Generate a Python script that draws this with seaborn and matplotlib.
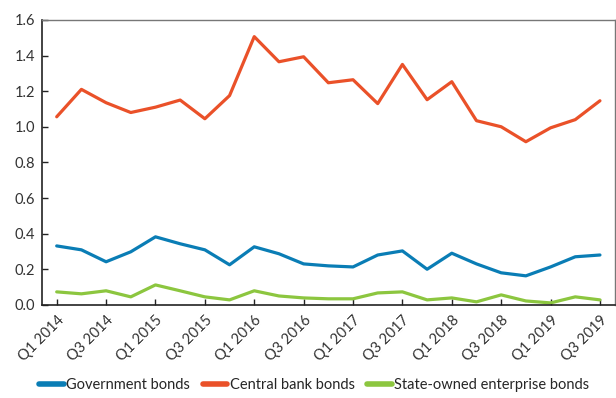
import matplotlib
matplotlib.use("Agg")
import matplotlib.pyplot as plt
import seaborn as sns
import pandas as pd

quarters = [f"Q{q} {y}" for y in range(2014, 2020) for q in (1, 2, 3, 4)][:23]
government = [0.331, 0.309, 0.242, 0.298, 0.382, 0.343, 0.309, 0.225, 0.326, 0.287,
              0.230, 0.219, 0.213, 0.280, 0.303, 0.200, 0.290, 0.230, 0.180, 0.163,
              0.213, 0.270, 0.280]
central_bank = [1.056, 1.210, 1.135, 1.080, 1.110, 1.150, 1.045, 1.175, 1.506, 1.365,
                1.393, 1.247, 1.264, 1.130, 1.350, 1.152, 1.253, 1.034, 1.000, 0.916,
                0.994, 1.040, 1.146]
soe = [0.073, 0.062, 0.079, 0.045, 0.112, 0.079, 0.045, 0.028, 0.079, 0.050,
       0.039, 0.034, 0.034, 0.067, 0.073, 0.028, 0.039, 0.017, 0.056, 0.022,
       0.011, 0.045, 0.028]
series_names = ["Government bonds", "Central bank bonds", "State-owned enterprise bonds"]
colors = ["#0a7db5", "#ea5129", "#8cc63f"]

rows = []
for name, vals in zip(series_names, [government, central_bank, soe]):
    for i, v in enumerate(vals):
        rows.append({"idx": i, "value": v, "series": name})
df = pd.DataFrame(rows)

sns.set_theme(style="white")
plt.rcParams["font.family"] = ["Lato", "DejaVu Sans"]

fig = plt.figure(figsize=(6.16, 3.98), dpi=100)
ax = fig.add_axes([0.068, 0.234, 0.93, 0.716])
sns.lineplot(data=df, x="idx", y="value", hue="series", hue_order=series_names,
             palette=colors, linewidth=2.3, ax=ax, legend=True)

ax.set_xlim(-0.6, 22.6)
ax.set_ylim(0, 1.6)
ax.set_yticks([0, 0.2, 0.4, 0.6, 0.8, 1.0, 1.2, 1.4, 1.6])
ax.set_yticklabels([f"{v:.1f}" for v in ax.get_yticks()], fontsize=10.5, color="#333333")
ticks = list(range(0, 23, 2))
ax.set_xticks(ticks)
ax.set_xticklabels([quarters[i] for i in ticks], rotation=45, ha="right",
                   rotation_mode="anchor", fontsize=10.5, color="#333333")
ax.set_xlabel("")
ax.set_ylabel("")
ax.tick_params(axis="both", direction="in", length=4, width=1, color="#222222")
ax.tick_params(axis="x", bottom=True, pad=6)
ax.tick_params(axis="y", left=True, pad=5)
for s in ["left", "bottom"]:
    ax.spines[s].set_color("#222222")
    ax.spines[s].set_linewidth(1.2)
for s in ["top", "right"]:
    ax.spines[s].set_color("#777777")
    ax.spines[s].set_linewidth(1.0)

handles, labels = ax.get_legend_handles_labels()
ax.get_legend().remove()
leg = fig.legend(handles, labels, loc="center", bbox_to_anchor=(0.51, 0.033),
                 ncol=3, frameon=False, fontsize=10.5, handlelength=1.7,
                 handletextpad=0.15, columnspacing=0.85, borderpad=0, borderaxespad=0)
for line in leg.get_lines():
    line.set_linewidth(4)

fig.savefig("out.png", dpi=100)
